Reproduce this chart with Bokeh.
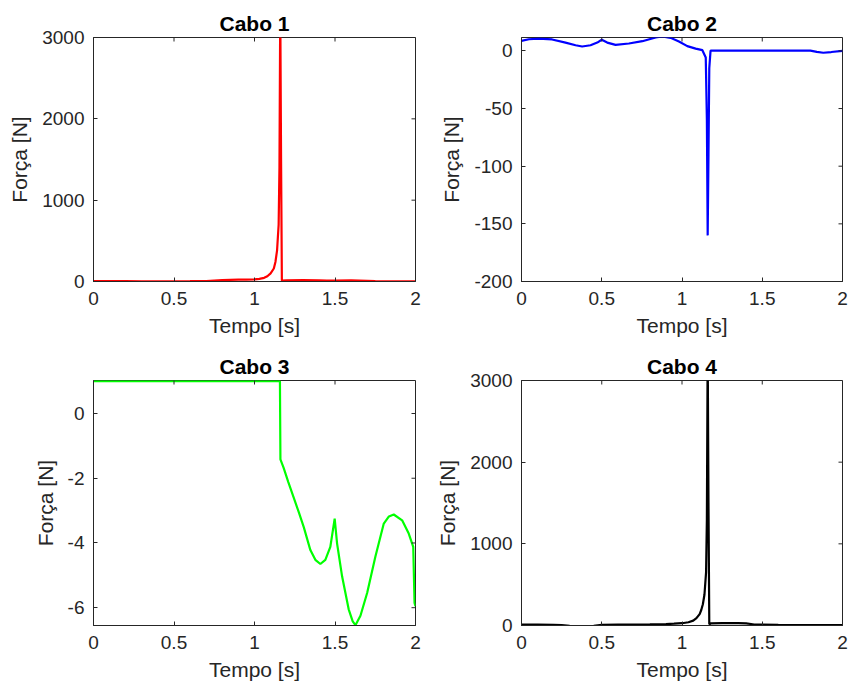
import math
from bokeh.plotting import figure
from bokeh.layouts import gridplot
from bokeh.models import Range1d, FixedTicker, CustomJSTickFormatter
from bokeh.embed import file_html
from bokeh.resources import INLINE

# ---------------- data ----------------
x_ticks = [0, 0.5, 1, 1.5, 2]

t1 = [0, 0.1, 0.2, 0.3, 0.4, 0.5, 0.6, 0.7, 0.75, 0.8, 0.85, 0.9, 0.95, 1.0, 1.03, 1.06,
      1.08, 1.1, 1.12, 1.13, 1.14, 1.15, 1.155, 1.16, 1.165, 1.17, 1.2, 1.3, 1.4, 1.45,
      1.5, 1.6, 1.65, 1.7, 1.75, 1.8, 1.9, 2.0]
f1 = [4, 4, 4, 3, 3, 3, 4, 6, 12, 18, 20, 22, 24, 27, 33, 45,
      65, 100, 160, 240, 380, 700, 1400, 3400, 1500, 10, 15, 16, 15, 10,
      12, 14, 12, 8, 4, 3, 3, 3]

t2 = [0, 0.046, 0.108, 0.191, 0.274, 0.337, 0.378, 0.43, 0.472, 0.5, 0.534, 0.586,
      0.669, 0.753, 0.836, 0.877, 0.929, 0.981, 1.033, 1.085, 1.127, 1.148, 1.155,
      1.16, 1.165, 1.17, 1.178, 1.3, 1.5, 1.7, 1.8, 1.84, 1.88, 1.93, 2.0]
f2 = [8.7, 10.1, 10.7, 9.9, 7.2, 4.9, 3.8, 4.9, 7.2, 9.6, 7.2, 5.2,
      6.4, 8.4, 11.6, 12.5, 11.3, 8.1, 4.1, 2.0, 0.6, -5.8, -60,
      -160, -90, -15, 0.3, 0.3, 0.3, 0.3, 0.2, -0.8, -1.6, -1.0, 0.0]

t3 = [0, 0.5, 1.0, 1.158, 1.161, 1.181, 1.21, 1.243, 1.275, 1.306, 1.347, 1.378, 1.409,
      1.44, 1.471, 1.498, 1.513, 1.544, 1.585, 1.61, 1.627, 1.658, 1.70, 1.751, 1.803,
      1.835, 1.865, 1.917, 1.958, 1.986, 1.994, 2.0]
f3 = [1.0, 1.0, 1.0, 1.0, -1.42, -1.68, -2.12, -2.59, -3.05, -3.51, -4.22, -4.52, -4.65,
      -4.52, -4.12, -3.25, -4.02, -5.03, -6.05, -6.42, -6.54, -6.25, -5.54, -4.42, -3.40,
      -3.18, -3.12, -3.30, -3.71, -4.12, -5.85, -5.95]

t4 = [0, 0.1, 0.2, 0.25, 0.3, 0.35, 0.4, 0.45, 0.5, 0.6, 0.7, 0.8, 0.9, 0.95, 1.0,
      1.04, 1.07, 1.09, 1.11, 1.12, 1.13, 1.14, 1.15, 1.155, 1.16, 1.165, 1.17, 1.18,
      1.25, 1.35, 1.4, 1.45, 1.6, 1.8, 2.0]
f4 = [10, 10, 8, 6, -4, -6, -6, -5, 8, 10, 12, 14, 18, 22, 28,
      40, 60, 90, 140, 190, 260, 380, 650, 1300, 3400, 1500, 15, 25,
      30, 28, 25, 12, 8, 6, 5]

# ---------------- styling helpers ----------------
FONT = "Liberation Sans"
TXT = "#262626"


def make(title, t, f, color, ylo, yhi, yticks, w, h, bl, br, bt, bb):
    p = figure(width=w, height=h, output_backend="svg", toolbar_location=None,
               x_range=Range1d(0, 2), y_range=Range1d(ylo, yhi),
               min_border_left=bl, min_border_right=br, min_border_top=bt,
               min_border_bottom=bb, background_fill_color="white",
               border_fill_color="white")
    p.line(t, f, line_color=color, line_width=2.2)
    p.grid.visible = False
    p.outline_line_color = TXT
    p.outline_line_width = 1

    fmt = CustomJSTickFormatter(code="return tick.toString();")
    for ax, ticks in ((p.xaxis[0], x_ticks), (p.yaxis[0], yticks)):
        ax.ticker = FixedTicker(ticks=ticks)
        ax.formatter = fmt
        ax.major_tick_in = 4
        ax.major_tick_out = 0
        ax.minor_tick_line_color = None
        ax.axis_line_color = TXT
        ax.major_tick_line_color = TXT
        ax.major_label_text_font = FONT
        ax.major_label_text_font_size = "19px"
        ax.major_label_text_color = TXT
        ax.axis_label_text_font = FONT
        ax.axis_label_text_font_size = "21px"
        ax.axis_label_text_font_style = "normal"
        ax.axis_label_text_color = TXT
    p.xaxis.axis_label = "Tempo [s]"
    p.yaxis.axis_label = "Força [N]"
    p.xaxis.major_label_standoff = 10
    p.xaxis.axis_label_standoff = 6
    p.yaxis.major_label_standoff = 9
    p.yaxis.axis_label_standoff = 8

    # box ticks on the top and right edges (MATLAB "box on")
    p.ray(x=x_ticks, y=[yhi] * len(x_ticks), length=4, length_units="screen",
          angle=-math.pi / 2, line_color=TXT, line_width=1)
    p.ray(x=[2] * len(yticks), y=yticks, length=4, length_units="screen",
          angle=math.pi, line_color=TXT, line_width=1)

    p.title.text = title
    p.title.text_font = FONT
    p.title.text_font_size = "21px"
    p.title.text_font_style = "bold"
    p.title.text_color = "black"
    p.title.align = "center"
    p.title.standoff = 6
    return p


p1 = make("Cabo 1", t1, f1, "#ff0000", 0, 3000, [0, 1000, 2000, 3000],
          426, 348, 93, 11, 37, 67)
p2 = make("Cabo 2", t2, f2, "#0000ff", -200, 11.6, [-200, -150, -100, -50, 0],
          427, 348, 95, 11, 37, 67)
p3 = make("Cabo 3", t3, f3, "#00ff00", -6.55, 1.02, [-6, -4, -2, 0],
          426, 348, 93, 11, 31, 71)
p4 = make("Cabo 4", t4, f4, "#000000", 0, 3000, [0, 1000, 2000, 3000],
          427, 348, 95, 11, 32, 71)

grid = gridplot([[p1, p2], [p3, p4]], toolbar_location=None)

open("out.html", "w").write(file_html(grid, INLINE))
